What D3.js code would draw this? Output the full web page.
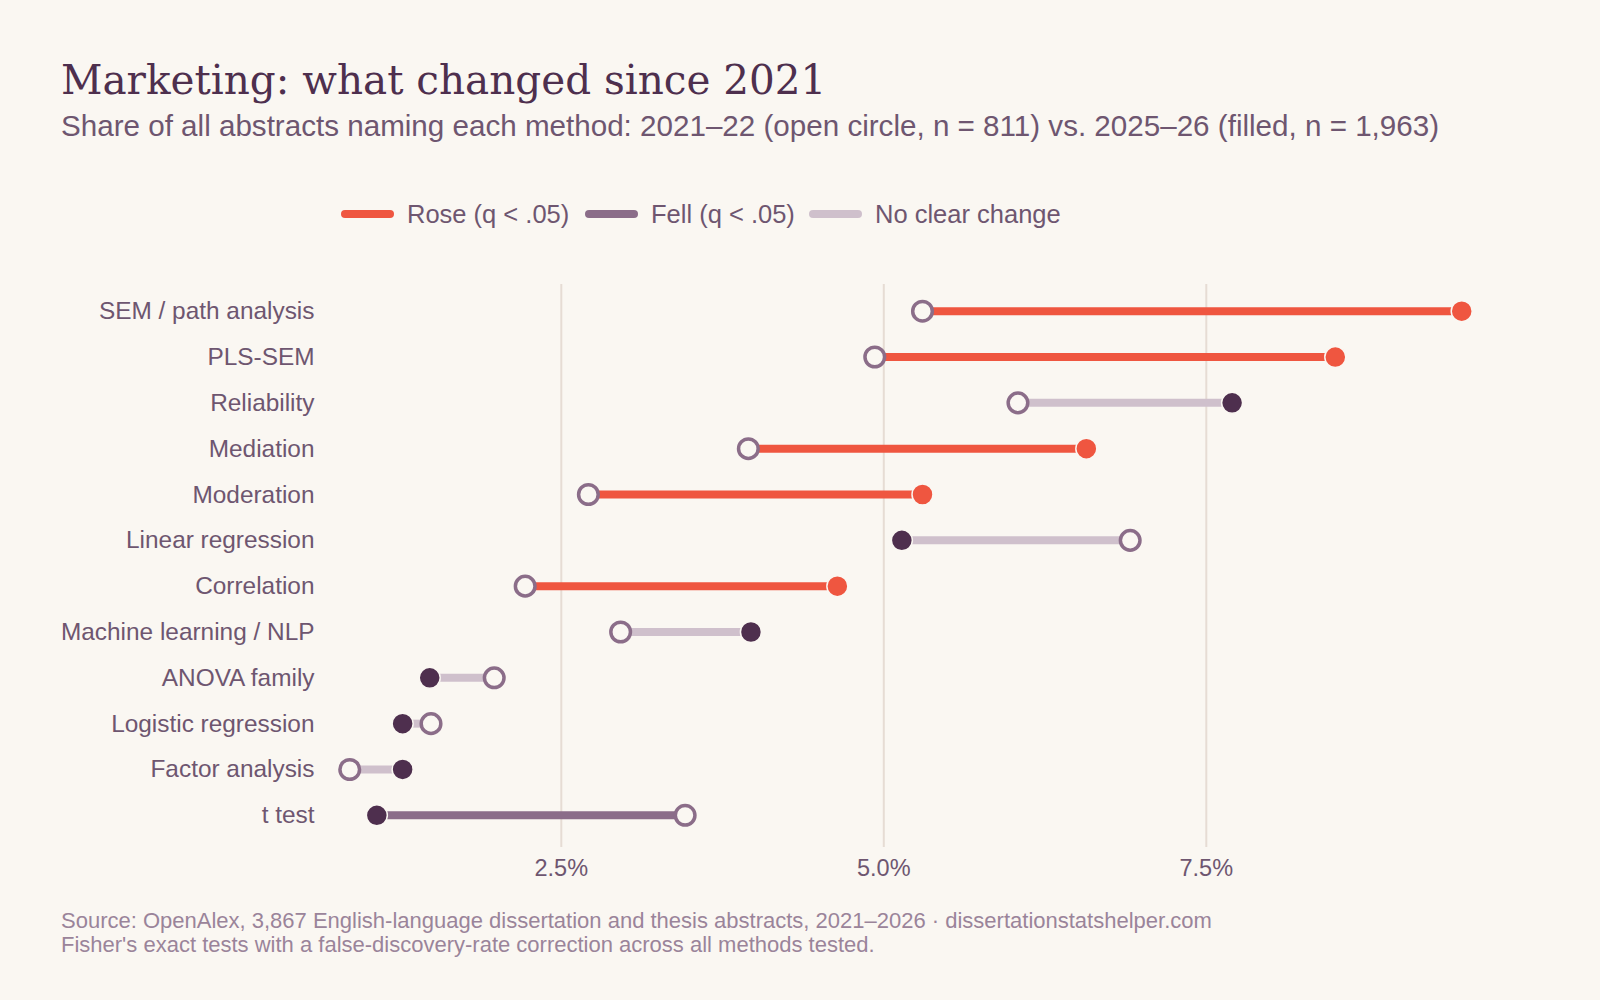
<!DOCTYPE html><html><head><meta charset="utf-8"><script src="https://cdn.jsdelivr.net/npm/d3@7"></script>
<style>body{margin:0;background:#faf7f2}</style></head><body><svg id="c" width="1600" height="1000"></svg>
<script>
const methods=["SEM / path analysis","PLS-SEM","Reliability","Mediation","Moderation","Linear regression","Correlation","Machine learning / NLP","ANOVA family","Logistic regression","Factor analysis","t test"];
const share2021=[5.30,4.93,6.04,3.95,2.71,6.91,2.22,2.96,1.98,1.49,0.86,3.46];
const share2025=[9.48,8.50,7.70,6.57,5.30,5.14,4.64,3.97,1.48,1.27,1.27,1.07];
const status=["rose","rose","none","rose","rose","none","rose","none","none","none","none","fell"];
const ticks=[2.5,5.0,7.5];
const col={rose:"#ef5640",fell:"#8b6d89",none:"#cfc0cc"};
const svg=d3.select("#c");
svg.append("rect").attr("width",1600).attr("height",1000).attr("fill","#faf7f2");
const x=d3.scaleLinear().domain([0,10]).range([238.8,1528.8]);
const y=d3.scalePoint().domain(methods).range([311.2,815.3]);
const f="Liberation Sans,Arial";
svg.append("g").selectAll("line").data(ticks).join("line").attr("x1",d=>x(d)).attr("x2",d=>x(d)).attr("y1",284).attr("y2",847).attr("stroke","#e6dcd4").attr("stroke-width",2);
svg.append("g").selectAll("text").data(ticks).join("text").attr("x",d=>x(d)).attr("y",876).attr("text-anchor","middle").attr("font-family",f).attr("font-size",23.5).attr("fill","#6e5670").text(d=>d.toFixed(1)+"%");
svg.append("g").selectAll("text").data(methods).join("text").attr("x",314.5).attr("y",d=>y(d)+8).attr("text-anchor","end").attr("font-family",f).attr("font-size",24.4).attr("fill","#6e5670").text(d=>d);
const rows=methods.map((m,i)=>({m,a:share2021[i],b:share2025[i],s:status[i]}));
svg.append("g").selectAll("line").data(rows).join("line").attr("x1",d=>x(d.a)).attr("x2",d=>x(d.b)).attr("y1",d=>y(d.m)).attr("y2",d=>y(d.m)).attr("stroke",d=>col[d.s]).attr("stroke-width",8);
svg.append("g").selectAll("circle").data(rows).join("circle").attr("cx",d=>x(d.b)).attr("cy",d=>y(d.m)).attr("r",10.5).attr("fill",d=>d.s==="rose"?col.rose:"#4e2f4e").attr("stroke","#faf7f2").attr("stroke-width",1.5);
svg.append("g").selectAll("circle").data(rows).join("circle").attr("cx",d=>x(d.a)).attr("cy",d=>y(d.m)).attr("r",9.8).attr("fill","#faf7f2").attr("stroke","#8b6d89").attr("stroke-width",3.5);
svg.append("text").attr("x",61).attr("y",94).attr("font-family","DejaVu Serif,Liberation Serif").attr("font-size",40.5).attr("fill","#4e2f4e").text("Marketing: what changed since 2021");
svg.append("text").attr("x",61).attr("y",136).attr("font-family",f).attr("font-size",29.6).attr("fill","#6e5670").text("Share of all abstracts naming each method: 2021–22 (open circle, n = 811) vs. 2025–26 (filled, n = 1,963)");
const leg=[["Rose (q < .05)",col.rose,345],["Fell (q < .05)",col.fell,589],["No clear change",col.none,813]];
leg.forEach(([t,c,lx])=>{svg.append("line").attr("x1",lx).attr("x2",lx+45).attr("y1",214).attr("y2",214).attr("stroke",c).attr("stroke-width",8).attr("stroke-linecap","round");
svg.append("text").attr("x",lx+62).attr("y",223).attr("font-family",f).attr("font-size",25.5).attr("fill","#6e5670").text(t);});
svg.append("text").attr("x",61).attr("y",928).attr("font-family",f).attr("font-size",22).attr("fill","#9a849a").text("Source: OpenAlex, 3,867 English-language dissertation and thesis abstracts, 2021–2026  ·  dissertationstatshelper.com");
svg.append("text").attr("x",61).attr("y",952).attr("font-family",f).attr("font-size",22).attr("fill","#9a849a").text("Fisher's exact tests with a false-discovery-rate correction across all methods tested.");
</script></body></html>
